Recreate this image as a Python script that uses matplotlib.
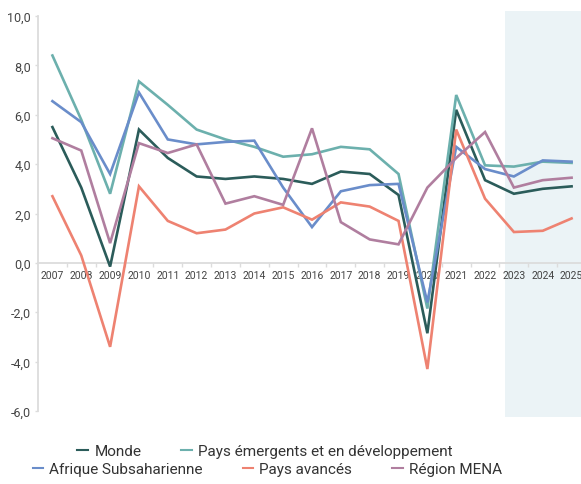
import matplotlib
matplotlib.use('Agg')
import matplotlib.pyplot as plt
from matplotlib.lines import Line2D
from matplotlib.patches import Rectangle
from matplotlib.ticker import FuncFormatter, MultipleLocator

plt.rcParams['font.family'] = ['Roboto', 'DejaVu Sans']

# data (croissance du PIB, %)
years = [str(y) for y in range(2007, 2026)]
monde = [5.5, 3.05, -0.15, 5.4, 4.25, 3.5, 3.4, 3.5, 3.4, 3.2, 3.7, 3.6, 2.75, -2.85, 6.2, 3.35, 2.8, 3.0, 3.1]
emergents = [8.4, 5.8, 2.8, 7.35, 6.4, 5.4, 5.0, 4.7, 4.3, 4.4, 4.7, 4.6, 3.6, -1.85, 6.8, 3.95, 3.9, 4.1, 4.05]
afrique = [6.55, 5.7, 3.6, 6.9, 5.0, 4.8, 4.9, 4.95, 3.05, 1.45, 2.9, 3.15, 3.2, -1.6, 4.7, 3.8, 3.5, 4.15, 4.1]
avances = [2.7, 0.3, -3.4, 3.1, 1.7, 1.2, 1.35, 2.0, 2.25, 1.75, 2.45, 2.28, 1.7, -4.3, 5.4, 2.6, 1.25, 1.3, 1.8]
mena = [5.05, 4.55, 0.8, 4.85, 4.45, 4.8, 2.4, 2.7, 2.35, 5.45, 1.65, 0.95, 0.75, 3.05, 4.25, 5.3, 3.05, 3.35, 3.45]
forecast_start = 15.7   # debut de la zone de prevision (index)

series = [
    ('Monde', monde, '#2b5c5a'),
    ('Pays émergents et en développement', emergents, '#6cb0ad'),
    ('Afrique Subsaharienne', afrique, '#6a8dca'),
    ('Pays avancés', avances, '#ee8271'),
    ('Région MENA', mena, '#b07e9f'),
]

fig = plt.figure(figsize=(5.81, 4.85), dpi=100)
ax = fig.add_axes([38 / 581, 73 / 485, 548 / 581, 395 / 485])

# shaded forecast area
ax.add_patch(Rectangle((forecast_start, -6.25), len(years) - forecast_start, 16.45,
                       facecolor='#ebf3f6', edgecolor='none', clip_on=False, zorder=0))

x = list(range(len(years)))
for name, vals, col in series:
    ax.plot(x, vals, color=col, lw=1.9, label=name, zorder=3, solid_joinstyle='miter')

ax.set_xlim(-0.5, len(years) - 0.5)
ax.set_ylim(-6, 10)

# axes styling
for s in ['top', 'right']:
    ax.spines[s].set_visible(False)
ax.spines['bottom'].set_position(('data', 0))
for s in ['bottom', 'left']:
    ax.spines[s].set_color('#dcdcdc')
    ax.spines[s].set_linewidth(1.3)

ax.set_xticks(x)
ax.set_xticklabels(years)
ax.set_xticks([i - 0.5 for i in x[1:]], minor=True)
ax.tick_params(axis='x', which='major', length=0, pad=5, labelsize=7.5, labelcolor='#444444')
ax.tick_params(axis='x', which='minor', length=3, width=1, color='#dcdcdc')

ax.yaxis.set_major_locator(MultipleLocator(2))
ax.yaxis.set_major_formatter(FuncFormatter(lambda v, p: '{:.1f}'.format(v).replace('.', ',')))
ax.tick_params(axis='y', length=2, width=1, color='#dcdcdc', pad=3, labelsize=9, labelcolor='#444444')

# legend in two centered rows
handles = [Line2D([], [], color=col, lw=1.5) for _, _, col in series]
names = [n for n, _, _ in series]
leg_kw = dict(frameon=False, fontsize=11, handlelength=0.7, handletextpad=0.4,
              columnspacing=2.6, labelcolor='#333333', loc='center')
fig.legend(handles[:2], names[:2], ncol=2, bbox_to_anchor=(0.456, 0.068), **leg_kw)
fig.legend(handles[2:], names[2:], ncol=3, bbox_to_anchor=(0.46, 0.031), **leg_kw)

fig.savefig('out.png', dpi=100)
